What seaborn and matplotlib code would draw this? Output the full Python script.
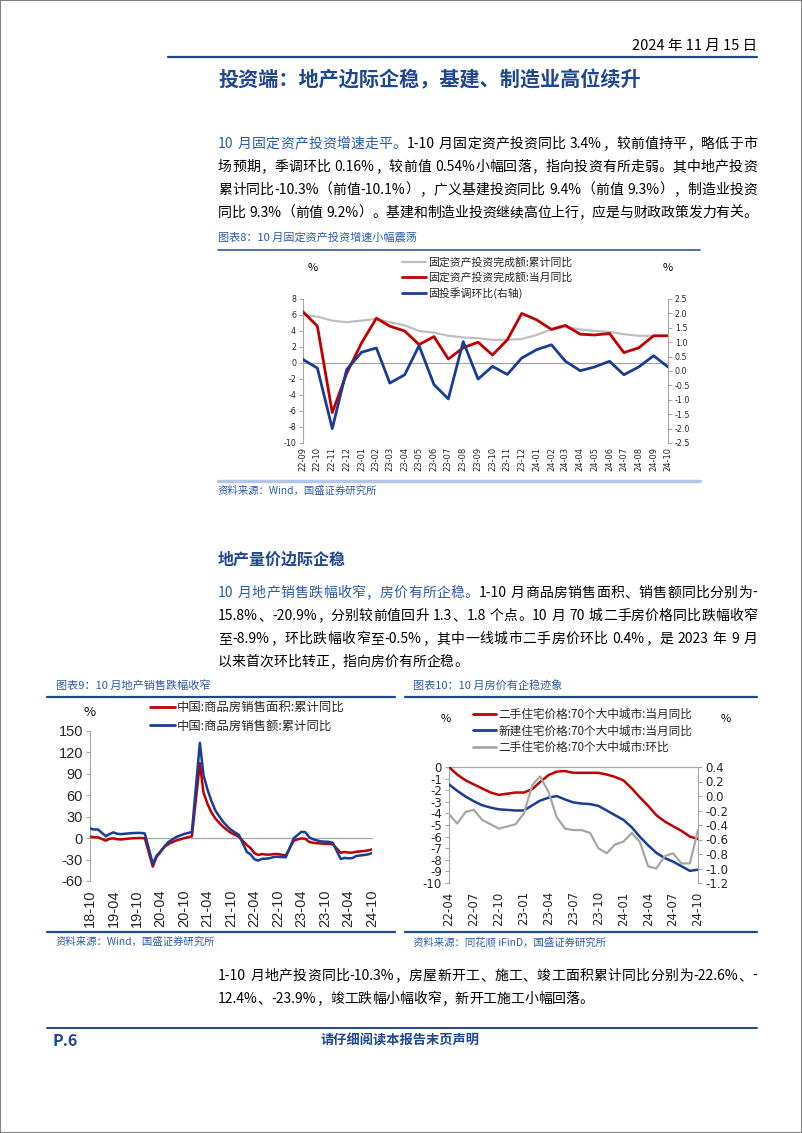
import matplotlib
matplotlib.use('Agg')
import pandas as pd
import matplotlib.pyplot as plt
from matplotlib.lines import Line2D
from matplotlib.patches import Rectangle
from matplotlib.font_manager import FontProperties
import seaborn as sns

W, H, DPI = 802, 1133, 100
BLUE = '#1F4690'
LBLUE = '#2B5BA8'
RED = '#C00000'
NAVY = '#1A3C96'
AXC = '#A6A6A6'
CJK = ['Noto Sans CJK SC', 'DejaVu Sans']

sns.set_style('white')
plt.rcParams['font.family'] = CJK
plt.rcParams['axes.unicode_minus'] = False

# 图表8 固定资产投资 (22-09 .. 24-10)
fai_cum = [6.0, 5.8, 5.3, 5.1, 5.3, 5.5, 5.1, 4.7, 4.0, 3.8, 3.4, 3.2, 3.1,
           2.9, 2.9, 3.0, 3.5, 4.2, 4.5, 4.2, 4.0, 3.9, 3.6, 3.4, 3.4, 3.4]
fai_mon = [6.4, 4.6, -6.2, -1.3, 2.5, 5.6, 4.6, 4.0, 2.3, 3.3, 0.5, 1.9, 2.6,
           1.0, 2.9, 6.2, 5.4, 4.2, 4.7, 3.6, 3.5, 3.7, 1.3, 1.9, 3.4, 3.4]
fai_qoq = [0.40, 0.10, -2.00, 0.05, 0.65, 0.80, -0.42, -0.13, 0.88, -0.47, -0.97, 1.02, -0.28,
           0.16, -0.12, 0.45, 0.74, 0.91, 0.34, 0.01, 0.14, 0.34, -0.13, 0.14, 0.53, 0.14]
fai_dates = pd.date_range('2022-09-01', '2024-10-01', freq='MS')

# 图表9 商品房销售 (18-10 .. 24-10, 无1月)
sales_area = [2.2, 1.4, 1.3,
              -3.6, -0.9, -0.3, -1.6, -1.8, -1.3, -0.6, -0.1, 0.1, 0.2, -0.1,
              -39.9, -26.3, -19.3, -12.3, -8.4, -5.8, -3.3, -1.8, 0.0, 1.3, 2.6,
              104.9, 63.8, 48.1, 36.3, 27.7, 21.5, 15.9, 11.3, 7.3, 4.8, 1.9,
              -9.6, -13.8, -20.9, -23.6, -22.2, -23.1, -23.0, -22.2, -22.3, -23.3, -24.3,
              -3.6, -1.8, -0.4, -0.9, -5.3, -6.5, -7.1, -7.5, -7.8, -8.0, -8.5,
              -20.5, -19.4, -20.2, -20.3, -19.0, -18.6, -18.0, -17.1, -15.8]
sales_value = [13.6, 12.1, 12.2,
               2.8, 5.6, 8.1, 6.1, 5.6, 6.2, 6.7, 7.1, 7.3, 7.3, 6.5,
               -35.9, -24.7, -18.6, -11.6, -5.4, -2.1, 1.6, 3.7, 5.8, 7.2, 8.7,
               133.4, 88.5, 68.2, 52.4, 38.9, 30.7, 22.9, 16.6, 11.8, 8.0, 4.8,
               -19.3, -22.7, -29.5, -31.5, -28.9, -28.8, -27.9, -26.3, -26.1, -26.6, -26.7,
               -0.1, 4.1, 8.8, 8.4, 1.1, -1.5, -3.2, -4.6, -4.9, -5.2, -6.5,
               -29.3, -27.6, -28.3, -27.9, -25.0, -24.3, -23.6, -22.7, -20.9]
sales_dates = [d for d in pd.date_range('2018-10-01', '2024-10-01', freq='MS') if d.month != 1]

# 图表10 70城房价 (22-04 .. 24-10)
sh_yoy = [0.0, -0.65, -1.15, -1.5, -1.85, -2.2, -2.4, -2.3, -2.2,
          -2.2, -1.9, -1.3, -0.7, -0.4, -0.35, -0.5, -0.5, -0.5, -0.5, -0.65, -0.85,
          -1.15, -1.85, -2.6, -3.35, -4.15, -4.7, -5.1, -5.5, -6.0, -6.2]
nb_yoy = [-1.5, -2.05, -2.55, -2.95, -3.3, -3.5, -3.65, -3.7, -3.75,
          -3.75, -3.3, -2.9, -2.65, -2.5, -2.8, -3.05, -3.15, -3.2, -3.35, -3.75, -4.15,
          -4.55, -5.2, -6.0, -6.75, -7.4, -7.85, -8.15, -8.55, -8.95, -8.85]
sh_mom = [-0.25, -0.38, -0.22, -0.19, -0.33, -0.39, -0.45, -0.42, -0.39,
          -0.24, 0.15, 0.27, 0.06, -0.29, -0.45, -0.47, -0.47, -0.51, -0.72, -0.79, -0.67,
          -0.63, -0.51, -0.63, -0.97, -1.0, -0.83, -0.79, -0.93, -0.93, -0.47]
price_dates = pd.date_range('2022-04-01', '2024-10-01', freq='MS')

fig = plt.figure(figsize=(W / DPI, H / DPI), dpi=DPI)
renderer = fig.canvas.get_renderer()


def fx(x):
    return x / W


def fy(y):
    return 1 - y / H


def hline(x0, x1, y, color=BLUE, lw=1.2):
    fig.add_artist(Line2D([fx(x0), fx(x1)], [fy(y), fy(y)], color=color, lw=lw))


def txt(x, y, s, size=9, color='black', ha='left', weight='normal', va='center', family=CJK):
    fig.text(fx(x), fy(y), s, fontsize=size, color=color, ha=ha, va=va,
             fontweight=weight, family=family)


def is_wide(c):
    return ord(c) > 0x2E80


def split_tokens(segments):
    toks, pend = [], False
    for text, color in segments:
        buf = ''
        for c in text:
            if c == ' ' or is_wide(c):
                if buf:
                    toks.append((buf, color, pend))
                    pend, buf = False, ''
                if c == ' ':
                    pend = True
                else:
                    toks.append((c, color, pend))
                    pend = False
            else:
                buf += c
        if buf:
            toks.append((buf, color, pend))
            pend = False
    return toks


def para_line(y, segments, x0=218, x1=757, size=10, justify=True):
    prop = FontProperties(family=CJK, size=size)
    toks = split_tokens(segments)
    widths = [renderer.get_text_width_height_descent(t, prop, ismath=False)[0] for t, _, _ in toks]
    sp = size * 0.28 * DPI / 72
    nat = sum(widths) + sp * sum(1 for t in toks if t[2])
    gap = (x1 - x0 - nat) / (len(toks) - 1) if justify else 0
    x = x0
    for (t, col, s), w in zip(toks, widths):
        if s:
            x += sp
        fig.text(fx(x), fy(y), t, color=col, fontproperties=prop, ha='left', va='baseline')
        x += w + gap


def add_ax(x0, y0, x1, y1):
    return fig.add_axes([fx(x0), fy(y1), (x1 - x0) / W, (y1 - y0) / H])


def style(ax, twin, size, font, pad, xsize=None):
    axes = [ax] + ([twin] if twin is not None else [])
    for a in axes:
        for s in a.spines.values():
            s.set_visible(False)
        a.set_xlabel('')
        a.set_ylabel('')
    ax.spines['left'].set_visible(True)
    ax.spines['left'].set_color(AXC)
    ax.tick_params(axis='y', left=True, length=3, color=AXC, labelsize=size,
                   labelfontfamily=font, pad=2)
    ax.tick_params(axis='x', bottom=False, length=0, labelsize=xsize or size,
                   labelfontfamily=font, rotation=90, pad=pad)
    ax.axhline(0, color=AXC, lw=0.9, clip_on=False, zorder=1)
    if twin is not None:
        twin.spines['right'].set_visible(True)
        twin.spines['right'].set_color(AXC)
        twin.tick_params(axis='y', right=True, length=3, color=AXC, labelsize=size,
                         labelfontfamily=font, pad=2)


# ---------- 页眉 ----------
fig.patches.append(Rectangle((0, 0), 1, 1, transform=fig.transFigure, fill=False,
                             edgecolor='#808080', lw=1.5))
txt(757, 46, '2024 年 11 月 15 日', size=10.5, ha='right')
hline(168, 757, 57, lw=1.6)
txt(430, 80, '投资端：地产边际企稳，基建、制造业高位续升', size=14.5, color=BLUE,
    ha='center', weight='bold')

# ---------- 段落1 ----------
para_line(148, [('10 月固定资产投资增速走平。', LBLUE),
                ('1-10 月固定资产投资同比 3.4%，较前值持平，略低于市', 'black')])
para_line(171, [('场预期，季调环比 0.16%，较前值 0.54%小幅回落，指向投资有所走弱。其中地产投资', 'black')])
para_line(194, [('累计同比-10.3%（前值-10.1%），广义基建投资同比 9.4%（前值 9.3%），制造业投资', 'black')])
para_line(217, [('同比 9.3%（前值 9.2%）。基建和制造业投资继续高位上行，应是与财政政策发力有关。', 'black')])

# ---------- 图表8 ----------
txt(218, 237, '图表8：10 月固定资产投资增速小幅震荡', size=8, color=LBLUE)
hline(218, 700, 250, color=LBLUE, lw=1.2)
ax8 = add_ax(303, 299, 668, 443)
ax8b = ax8.twinx()
sns.lineplot(x=fai_dates, y=fai_cum, ax=ax8, color='#BFBFBF', lw=1.6, zorder=2)
sns.lineplot(x=fai_dates, y=fai_mon, ax=ax8, color=RED, lw=2.0, zorder=3)
sns.lineplot(x=fai_dates, y=fai_qoq, ax=ax8b, color=NAVY, lw=2.0, zorder=4)
ax8.set_xlim(fai_dates[0], fai_dates[-1])
ax8.set_ylim(-10, 8)
ax8.set_yticks(range(-10, 9, 2))
ax8b.set_ylim(-2.5, 2.5)
ax8b.set_yticks([-2.5 + 0.5 * i for i in range(11)])
ax8b.set_yticklabels([f'{-2.5 + 0.5 * i:.1f}' for i in range(11)])
ax8.set_xticks(fai_dates)
ax8.set_xticklabels([d.strftime('%y-%m') for d in fai_dates])
style(ax8, ax8b, 5.7, 'DejaVu Sans', 3, xsize=6)
txt(308, 268, '%', size=8)
txt(663, 268, '%', size=8)
fig.legend([Line2D([], [], color='#BFBFBF', lw=1.6), Line2D([], [], color=RED, lw=2),
            Line2D([], [], color=NAVY, lw=2)],
           ['固定资产投资完成额:累计同比', '固定资产投资完成额:当月同比', '固投季调环比(右轴)'],
           loc='upper left', bbox_to_anchor=(fx(402), fy(257)), frameon=False, fontsize=7.8,
           handlelength=2.2, handletextpad=0.25, labelspacing=0.4, borderpad=0, borderaxespad=0)
hline(218, 700, 481, color='#B4C6E7', lw=2.5)
txt(218, 491, '资料来源：Wind，国盛证券研究所', size=7.5, color=LBLUE)

# ---------- 段落2 ----------
txt(218, 560, '地产量价边际企稳', size=11.5, color=BLUE, weight='bold')
para_line(597, [('10 月地产销售跌幅收窄，房价有所企稳。', LBLUE),
                ('1-10 月商品房销售面积、销售额同比分别为-', 'black')])
para_line(620, [('15.8%、-20.9%，分别较前值回升 1.3、1.8 个点。10 月 70 城二手房价格同比跌幅收窄', 'black')])
para_line(643, [('至-8.9%，环比跌幅收窄至-0.5%，其中一线城市二手房价环比 0.4%，是 2023 年 9 月', 'black')])
para_line(666, [('以来首次环比转正，指向房价有所企稳。', 'black')], justify=False)

# ---------- 图表9 ----------
txt(56, 685, '图表9：10 月地产销售跌幅收窄', size=8, color=LBLUE)
hline(47, 395, 697, color=BLUE, lw=1.6)
ax9 = add_ax(90, 731, 372, 881)
sns.lineplot(x=sales_dates, y=sales_area, ax=ax9, color=RED, lw=1.8, zorder=3)
sns.lineplot(x=sales_dates, y=sales_value, ax=ax9, color=NAVY, lw=1.8, zorder=4)
ax9.set_xlim(pd.Timestamp('2018-10-01'), pd.Timestamp('2024-10-01'))
ax9.set_ylim(-60, 150)
ax9.set_yticks(range(-60, 151, 30))
t9 = pd.date_range('2018-10-01', '2024-10-01', freq='6MS')
ax9.set_xticks(t9)
ax9.set_xticklabels([d.strftime('%y-%m') for d in t9])
style(ax9, None, 10.5, 'Liberation Sans', 6)
txt(83, 713, '%', size=9.5)
fig.legend([Line2D([], [], color=RED, lw=2), Line2D([], [], color=NAVY, lw=2)],
           ['中国:商品房销售面积:累计同比', '中国:商品房销售额:累计同比'],
           loc='upper left', bbox_to_anchor=(fx(150), fy(701)), frameon=False, fontsize=8.9,
           handlelength=2.0, handletextpad=0.2, labelspacing=0.45, borderpad=0, borderaxespad=0)
hline(47, 395, 932, color=BLUE, lw=1.6)
txt(56, 942, '资料来源：Wind，国盛证券研究所', size=7.5, color=LBLUE)

# ---------- 图表10 ----------
txt(413, 685, '图表10：10 月房价有企稳迹象', size=8, color=LBLUE)
hline(405, 757, 697, color=BLUE, lw=1.6)
ax10 = add_ax(449, 767, 698, 883)
ax10b = ax10.twinx()
sns.lineplot(x=price_dates, y=sh_yoy, ax=ax10, color=RED, lw=1.8, zorder=3)
sns.lineplot(x=price_dates, y=nb_yoy, ax=ax10, color=NAVY, lw=1.8, zorder=3)
sns.lineplot(x=price_dates, y=sh_mom, ax=ax10b, color='#A6A6A6', lw=1.6, zorder=2)
ax10.set_xlim(price_dates[0], price_dates[-1])
ax10.set_ylim(-10, 0)
ax10.set_yticks(range(-10, 1))
ax10b.set_ylim(-1.2, 0.4)
ax10b.set_yticks([-1.2 + 0.2 * i for i in range(9)])
ax10b.set_yticklabels([f'{-1.2 + 0.2 * i:.1f}' for i in range(9)])
t10 = pd.date_range('2022-04-01', '2024-10-01', freq='3MS')
ax10.set_xticks(t10)
ax10.set_xticklabels([d.strftime('%y-%m') for d in t10])
style(ax10, ax10b, 8.5, 'DejaVu Sans', 6)
txt(441, 719, '%', size=8)
txt(721, 719, '%', size=8)
fig.legend([Line2D([], [], color=RED, lw=2), Line2D([], [], color=NAVY, lw=2),
            Line2D([], [], color='#A6A6A6', lw=2)],
           ['二手住宅价格:70个大中城市:当月同比', '新建住宅价格:70个大中城市:当月同比',
            '二手住宅价格:70个大中城市:环比'],
           loc='upper left', bbox_to_anchor=(fx(473), fy(708)), frameon=False, fontsize=8.4,
           handlelength=2.0, handletextpad=0.2, labelspacing=0.3, borderpad=0, borderaxespad=0)
hline(405, 757, 932, color=BLUE, lw=1.6)
txt(413, 942, '资料来源：同花顺 iFinD，国盛证券研究所', size=7.5, color=LBLUE)

# ---------- 段落3 + 页脚 ----------
para_line(980, [('1-10 月地产投资同比-10.3%，房屋新开工、施工、竣工面积累计同比分别为-22.6%、-', 'black')])
para_line(1003, [('12.4%、-23.9%，竣工跌幅小幅收窄，新开工施工小幅回落。', 'black')], justify=False)
hline(47, 757, 1028, color=BLUE, lw=1.4)
txt(52, 1041, 'P.6', size=11.5, color=BLUE, weight='bold')
txt(400, 1041, '请仔细阅读本报告末页声明', size=9.5, color=BLUE, ha='center', weight='bold')

fig.savefig('out.png', dpi=DPI)
